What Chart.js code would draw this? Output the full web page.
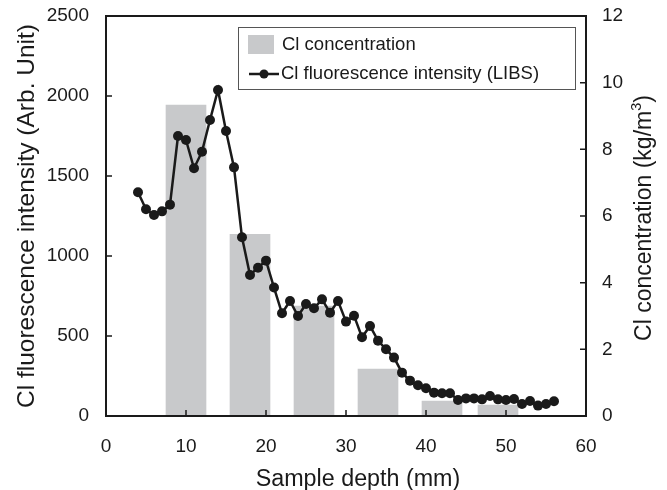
<!DOCTYPE html>
<html>
<head>
<meta charset="utf-8">
<script src="https://cdn.jsdelivr.net/npm/chart.js@4/dist/chart.umd.min.js"></script>
<style>
  html,body{margin:0;padding:0;background:#fff;}
  #wrap{width:667px;height:490px;position:relative;}
</style>
</head>
<body>
<div id="wrap"><canvas id="c"></canvas></div>
<script>
// LIBS intensity, one reading per mm from 4 to 56 mm
const depthMm = [4,5,6,7,8,9,10,11,12,13,14,15,16,17,18,19,20,21,22,23,24,25,26,27,28,29,30,
  31,32,33,34,35,36,37,38,39,40,41,42,43,44,45,46,47,48,49,50,51,52,53,54,55,56];
const intensity = [1398,1292,1256,1279,1321,1750,1725,1548,1652,1850,2038,1781,1554,1117,881,
  927,971,803,642,719,625,700,673,729,646,719,590,627,492,563,471,417,365,271,221,
  192,173,146,142,142,100,110,110,104,125,104,100,106,75,94,65,75,92];

// chloride concentration per sample slice
const sliceMm = [10,18,26,34,42,49];
const concentration = [9.33,5.45,3.3,1.41,0.45,0.33];

const xTicks = [0,10,20,30,40,50,60];
const FONT = "'Liberation Sans', Arial, sans-serif";
const INK = '#1a1a1a';
const BAR = '#c8c9cb';

const frame = {
  id:'frame',
  afterDatasetsDraw(chart){
    const {ctx,chartArea:a,scales} = chart;
    ctx.save();
    ctx.strokeStyle = INK;
    ctx.lineWidth = 2;
    ctx.strokeRect(a.left,a.top,a.right-a.left,a.bottom-a.top);
    ctx.lineWidth = 1.5;
    ctx.beginPath();
    // ticks point into the plot
    scales.x.ticks.forEach(t=>{
      const px = scales.x.getPixelForValue(t.value);
      if(px<=a.left+1||px>=a.right-1) return;
      ctx.moveTo(px,a.bottom);ctx.lineTo(px,a.bottom-6);
    });
    scales.y.ticks.forEach(t=>{
      const py = scales.y.getPixelForValue(t.value);
      if(py<=a.top+1||py>=a.bottom-1) return;
      ctx.moveTo(a.left,py);ctx.lineTo(a.left+6,py);
    });
    scales.y2.ticks.forEach(t=>{
      const py = scales.y2.getPixelForValue(t.value);
      if(py<=a.top+1||py>=a.bottom-1) return;
      ctx.moveTo(a.right,py);ctx.lineTo(a.right-6,py);
    });
    ctx.stroke();
    ctx.restore();
  },
  afterDraw(chart){
    const {ctx} = chart;
    ctx.save();
    // legend box
    ctx.fillStyle = '#fff';
    ctx.fillRect(238,27,337,62);
    ctx.strokeStyle = '#555';
    ctx.lineWidth = 1;
    ctx.strokeRect(238.5,27.5,337,62);
    ctx.fillStyle = BAR;
    ctx.fillRect(248,35,26,19);
    ctx.strokeStyle = INK;
    ctx.lineWidth = 2.5;
    ctx.beginPath();ctx.moveTo(249,74);ctx.lineTo(279,74);ctx.stroke();
    ctx.fillStyle = INK;
    ctx.beginPath();ctx.arc(264,74,4.5,0,Math.PI*2);ctx.fill();
    ctx.font = '18.5px '+FONT;
    ctx.textBaseline = 'middle';
    ctx.textAlign = 'left';
    ctx.fillStyle = INK;
    ctx.fillText('Cl concentration',282,45);
    ctx.fillText('Cl fluorescence intensity (LIBS)',281,74);

    // x axis title
    ctx.textAlign = 'center';
    ctx.textBaseline = 'alphabetic';
    ctx.font = '23.3px '+FONT;
    ctx.fillText('Sample depth (mm)',358,486);

    // left axis title
    ctx.save();
    ctx.translate(27,216);
    ctx.rotate(-Math.PI/2);
    ctx.textBaseline = 'middle';
    ctx.font = '24.5px '+FONT;
    ctx.fillText('Cl fluorescence intensity (Arb. Unit)',0,0);
    ctx.restore();

    // right axis title, reads bottom to top
    ctx.textAlign = 'left';
    ctx.textBaseline = 'middle';
    ctx.translate(645,218);
    ctx.rotate(-Math.PI/2);
    ctx.font = '23px '+FONT;
    const a1 = 'Cl concentration (kg/m', sup = '3', a2 = ')';
    const w1 = ctx.measureText(a1).width;
    ctx.font = '14.5px '+FONT;
    const ws = ctx.measureText(sup).width;
    ctx.font = '23px '+FONT;
    const w2 = ctx.measureText(a2).width;
    let x0 = -(w1+ws+w2)/2;
    ctx.fillText(a1,x0,0);
    ctx.font = '14.5px '+FONT;
    ctx.fillText(sup,x0+w1,-8);
    ctx.font = '23px '+FONT;
    ctx.fillText(a2,x0+w1+ws,0);
    ctx.restore();
  }
};

const noPad = s=>{s.paddingTop=0;s.paddingBottom=0;s.paddingLeft=0;s.paddingRight=0;};

new Chart(document.getElementById('c'),{
  data:{datasets:[
    {type:'line',label:'Cl fluorescence intensity (LIBS)',yAxisID:'y',order:0,
      data:depthMm.map((d,i)=>({x:d,y:intensity[i]})),
      borderColor:INK,borderWidth:2.5,tension:0,
      pointRadius:5,pointBackgroundColor:INK,pointBorderColor:INK,pointBorderWidth:0},
    {type:'bar',label:'Cl concentration',yAxisID:'y2',order:1,
      data:sliceMm.map((d,i)=>({x:d,y:concentration[i]})),
      backgroundColor:BAR,barThickness:40,borderWidth:0}
  ]},
  options:{
    responsive:true,maintainAspectRatio:false,animation:false,
    layout:{padding:{top:16,left:0,right:0,bottom:0}},
    plugins:{legend:{display:false},tooltip:{enabled:false}},
    scales:{
      x:{type:'linear',min:0,max:60,offset:false,
        afterBuildTicks:s=>{s.ticks=xTicks.map(v=>({value:v}));},
        afterFit:s=>{s.height=74;noPad(s);},
        grid:{display:false,offset:false},border:{display:false},
        ticks:{color:INK,font:{family:FONT,size:19},padding:11,maxRotation:0}},
      y:{position:'left',min:0,max:2500,
        afterFit:s=>{s.width=106;noPad(s);},
        grid:{display:false},border:{display:false},
        ticks:{stepSize:500,color:INK,font:{family:FONT,size:19},padding:9,callback:v=>String(v)}},
      y2:{position:'right',min:0,max:12,
        afterFit:s=>{s.width=81;noPad(s);},
        grid:{display:false},border:{display:false},
        ticks:{stepSize:2,color:INK,font:{family:FONT,size:19},padding:8,callback:v=>String(v)}}
    }
  },
  plugins:[frame]
});
</script>
</body>
</html>
